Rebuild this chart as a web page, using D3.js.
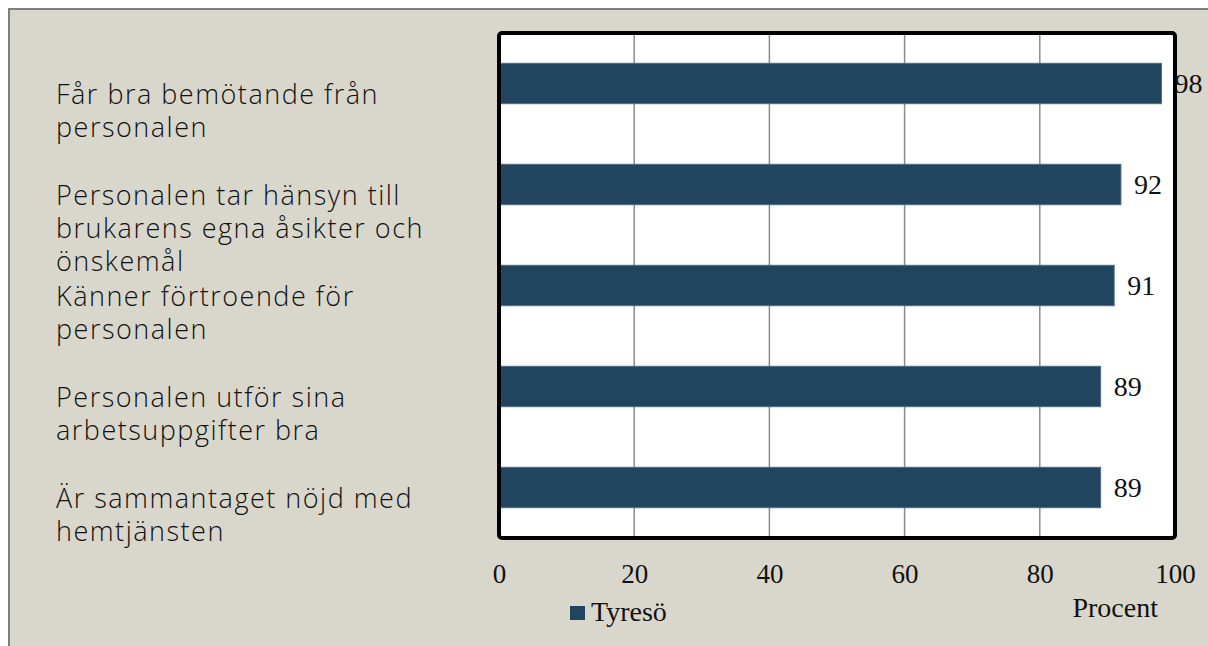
<!DOCTYPE html>
<html lang="sv">
<head>
<meta charset="UTF-8">
<title>Tyresö hemtjänst</title>
<script src="https://d3js.org/d3.v7.min.js"></script>
<style>
  html, body { margin: 0; padding: 0; background: #fff; }
  svg { display: block; }
  .cat { font-family: "Open Sans", Lato, sans-serif; font-size: 27px; font-weight: 300; letter-spacing: 1.5px; fill: #111; }
  .serif { font-family: "Liberation Serif", "Times New Roman", serif; fill: #111; }
</style>
</head>
<body>
<svg width="1208" height="646"></svg>
<script>
// data
const categories = [
  "Får bra bemötande från\npersonalen",
  "Personalen tar hänsyn till\nbrukarens egna åsikter och\nönskemål",
  "Känner förtroende för\npersonalen",
  "Personalen utför sina\narbetsuppgifter bra",
  "Är sammantaget nöjd med\nhemtjänsten"
];
const values = [98, 92, 91, 89, 89];
const xTicks = [0, 20, 40, 60, 80, 100];
const seriesName = "Tyresö";
const axisTitle = "Procent";

const svg = d3.select("svg");
const W = +svg.attr("width"), H = +svg.attr("height");

// outer panel
svg.append("rect")
   .attr("x", 9).attr("y", 9)
   .attr("width", W).attr("height", H)
   .attr("fill", "#d9d7cb")
   .attr("stroke", "#7f7f7f")
   .attr("stroke-width", 2);

const plot = { left: 499, right: 1175, top: 33, bottom: 538 };

const x = d3.scaleLinear()
            .domain([0, 100])
            .range([plot.left, plot.right]);
const y = d3.scaleBand()
            .domain(categories)
            .range([plot.top, plot.bottom])
            .paddingInner(0.6)
            .paddingOuter(0.3);

// plot area
svg.append("rect")
   .attr("x", plot.left).attr("y", plot.top)
   .attr("width", plot.right - plot.left)
   .attr("height", plot.bottom - plot.top)
   .attr("fill", "#fff");

// gridlines
svg.selectAll(".grid")
   .data(xTicks.slice(1, -1))
   .enter().append("line")
   .attr("x1", d => x(d)).attr("x2", d => x(d))
   .attr("y1", plot.top).attr("y2", plot.bottom)
   .attr("stroke", "#8c8c8c")
   .attr("stroke-width", 1.5);

// bars
svg.selectAll(".bar")
   .data(values)
   .enter().append("rect")
   .attr("x", x(0))
   .attr("y", (d, i) => y(categories[i]))
   .attr("width", d => x(d) - x(0))
   .attr("height", y.bandwidth())
   .attr("fill", "#22455f")
   .attr("stroke", "#4d6c83")
   .attr("stroke-width", 1);

// frame
svg.append("rect")
   .attr("x", plot.left).attr("y", plot.top)
   .attr("width", plot.right - plot.left)
   .attr("height", plot.bottom - plot.top)
   .attr("rx", 3)
   .attr("fill", "none")
   .attr("stroke", "#000")
   .attr("stroke-width", 4);

// value labels
svg.selectAll(".val")
   .data(values)
   .enter().append("text")
   .attr("class", "serif")
   .attr("x", d => x(d) + 13)
   .attr("y", (d, i) => y(categories[i]) + y.bandwidth() / 2)
   .attr("dy", "0.35em")
   .attr("font-size", 28)
   .text(d => d);

// x axis
const xAxis = d3.axisBottom(x)
                .tickValues(xTicks)
                .tickSize(0)
                .tickPadding(26);
const gx = svg.append("g")
              .attr("transform", `translate(0,${plot.bottom})`)
              .call(xAxis);
gx.select(".domain").remove();
gx.selectAll("text")
  .attr("class", "serif")
  .attr("font-family", null)
  .style("font-size", "27px");

svg.append("text")
   .attr("class", "serif")
   .attr("x", 1158).attr("y", 617)
   .attr("text-anchor", "end")
   .attr("font-size", 28)
   .text(axisTitle);

// category labels, first baseline just below band centre
const cat = svg.selectAll(".cat")
   .data(categories)
   .enter().append("text")
   .attr("class", "cat")
   .attr("x", 56)
   .attr("y", d => y(d) + y.bandwidth() / 2 + 20);
cat.selectAll("tspan")
   .data(d => d.split("\n"))
   .enter().append("tspan")
   .attr("x", 56)
   .attr("dy", (d, i) => i === 0 ? 0 : 33)
   .text(d => d);

// legend
svg.append("rect")
   .attr("x", 570).attr("y", 606)
   .attr("width", 15).attr("height", 14)
   .attr("fill", "#22455f");
svg.append("text")
   .attr("class", "serif")
   .attr("x", 591).attr("y", 621)
   .attr("font-size", 28)
   .text(seriesName);
</script>
</body>
</html>
